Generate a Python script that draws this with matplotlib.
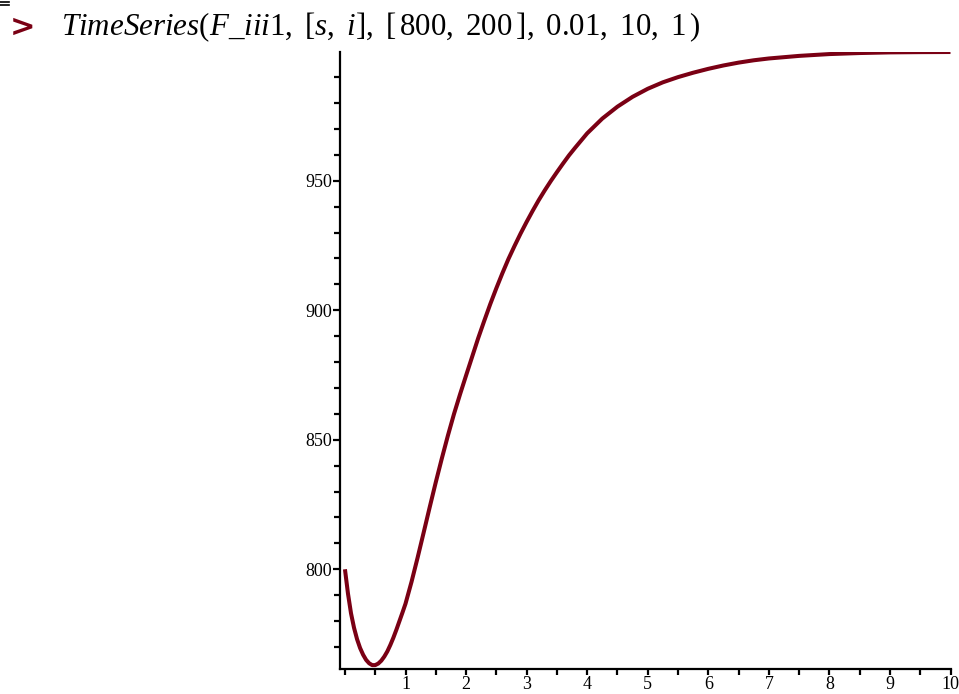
import matplotlib
matplotlib.use("Agg")
import matplotlib.pyplot as plt
from matplotlib.lines import Line2D
from matplotlib.ticker import MultipleLocator, FixedLocator

plt.rcParams["mathtext.fontset"] = "custom"
plt.rcParams["mathtext.rm"] = "Liberation Serif"
plt.rcParams["mathtext.it"] = "Liberation Serif:italic"

# s(t) read from the solver output
t_vals = [0.00, 0.05, 0.10, 0.15, 0.20, 0.25, 0.30, 0.35, 0.40, 0.45,
          0.50, 0.55, 0.60, 0.65, 0.70, 0.75, 0.80, 0.85, 0.90, 0.95,
          1.0, 1.1, 1.2, 1.3, 1.4, 1.5, 1.6, 1.7, 1.8, 1.9,
          2.0, 2.1, 2.2, 2.3, 2.4, 2.5, 2.6, 2.7, 2.8, 2.9,
          3.0, 3.1, 3.2, 3.3, 3.4, 3.5, 3.6, 3.7, 3.8,
          4.0, 4.25, 4.5, 4.75, 5.0, 5.25, 5.5, 5.75, 6.0, 6.25, 6.5,
          6.75, 7.0, 7.5, 8.0, 8.5, 9.0, 9.5, 10.0]
s_vals = [800.0, 790.6, 783.0, 777.4, 773.0, 769.6, 767.0, 765.0, 763.7, 763.0,
          763.0, 763.6, 764.7, 766.3, 768.3, 770.8, 773.6, 776.7, 780.0, 783.3,
          786.7, 795.2, 804.5, 814.2, 824.0, 833.6, 842.8, 851.6, 859.9, 867.5,
          874.8, 882.0, 889.2, 895.9, 902.4, 908.5, 914.3, 919.8, 924.8, 929.6,
          934.1, 938.4, 942.5, 946.3, 949.9, 953.3, 956.6, 959.8, 962.7,
          968.3, 974.0, 978.6, 982.4, 985.5, 988.0, 990.0, 991.7, 993.2, 994.5, 995.6,
          996.5, 997.2, 998.2, 998.9, 999.3, 999.55, 999.65, 999.7]

x_major = [1, 2, 3, 4, 5, 6, 7, 8, 9, 10]
y_major = [800, 850, 900, 950]

CURVE = "#7a0014"

fig = plt.figure(figsize=(9.59, 6.94), dpi=100)
ax = fig.add_axes([339.5 / 959, 1 - 669 / 694, 611 / 959, 617 / 694])

ax.plot(t_vals, s_vals, color=CURVE, lw=2.9, solid_capstyle="butt",
        solid_joinstyle="round")

ax.set_xlim(-0.09, 10.0)
ax.set_ylim(761.5, 999.7)

for side in ("top", "right"):
    ax.spines[side].set_visible(False)
for side in ("left", "bottom"):
    ax.spines[side].set_linewidth(1.6)
    ax.spines[side].set_color("black")

ax.xaxis.set_major_locator(FixedLocator(x_major))
ax.xaxis.set_minor_locator(MultipleLocator(0.5))
ax.yaxis.set_major_locator(FixedLocator(y_major))
ax.yaxis.set_minor_locator(MultipleLocator(10))

ax.tick_params(axis="both", which="both", direction="out", length=4.5,
               width=1.6, color="black")
ax.tick_params(axis="x", which="major", pad=0.5)
ax.tick_params(axis="y", which="major", pad=0.5, length=5)

for lab in ax.get_xticklabels() + ax.get_yticklabels():
    lab.set_fontfamily("Liberation Serif")
    lab.set_fontsize(13)

# command prompt line above the plot
fig.text(10 / 959, 1 - 27 / 694, ">", color=CURVE, fontsize=22,
         fontweight="bold", family="DejaVu Sans", va="center", ha="left")
fig.text(61 / 959, 1 - 27 / 694,
         r"$TimeSeries(F\_iii1,\ [s,\ i],\ [\,800,\ 200\,],\ 0.01,\ 10,\ 1\,)$",
         fontsize=22.3, va="center", ha="left")

# small marker bars in the top-left corner
for yy in (1.5, 4.5):
    fig.add_artist(Line2D([0, 9 / 959], [1 - yy / 694, 1 - yy / 694],
                          color="black", lw=1.2))

fig.savefig("out.png", dpi=100)
